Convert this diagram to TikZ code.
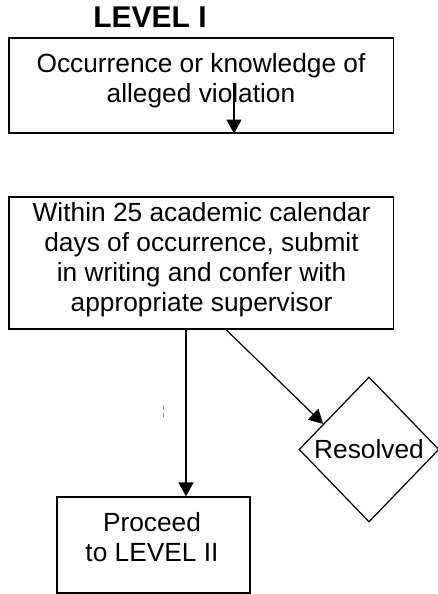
\documentclass[tikz,border=0pt]{standalone}
\usepackage{fontspec}
\setmainfont{Liberation Sans}
\usetikzlibrary{arrows.meta,shapes.geometric,calc}
\tikzset{
  box/.style={draw, line width=1.2pt, inner sep=0pt},
  txt/.style={inner sep=0pt, align=center, font=\fontsize{26.3}{30}\selectfont},
  arr/.style={line width=1.2pt, -{Triangle[width=15pt,length=14pt]}},
}
\begin{document}
\begin{tikzpicture}[x=1pt,y=-1pt]
\useasboundingbox (0,0) rectangle (438,594);
\node[anchor=base, inner sep=0pt, font=\fontsize{30}{34}\selectfont\bfseries] (title) at (150,28) {LEVEL I};
\node[box, minimum width=384.5pt, minimum height=95pt] (b1) at (201.25,85.5) {};
\node[txt] (b1t) at (201,81) {Occurrence or knowledge of\\alleged violation};
\node[box, minimum width=384.5pt, minimum height=132pt] (b2) at (201.25,263) {};
\node[txt] (b2t) at (201.5,259.5) {Within 25 academic calendar\\days of occurrence, submit\\in writing and confer with\\appropriate supervisor};
\node[box, minimum width=193pt, minimum height=96pt] (b3) at (153.5,545) {};
\node[txt] (b3t) at (152,537) {Proceed\\to LEVEL II};
\node[box, txt, draw, line width=1.2pt, diamond, minimum width=140pt, minimum height=145pt] (dia) at (369,449.5) {Resolved};
\coordinate (a1) at (234,83);
\coordinate (vx) at (186,0);
\coordinate (dx) at (226,0);
\draw[arr] (a1) -- (b1.south -| a1);
\draw[arr] (b2.south -| vx) -- (b3.north -| vx);
\draw[arr] (b2.south -| dx) -- ($(dia.west)!0.35!(dia.north)$);
\draw[gray, line width=0.7pt] (163,406) -- (163,410) (163,413) -- (163,417);
\end{tikzpicture}
\end{document}
